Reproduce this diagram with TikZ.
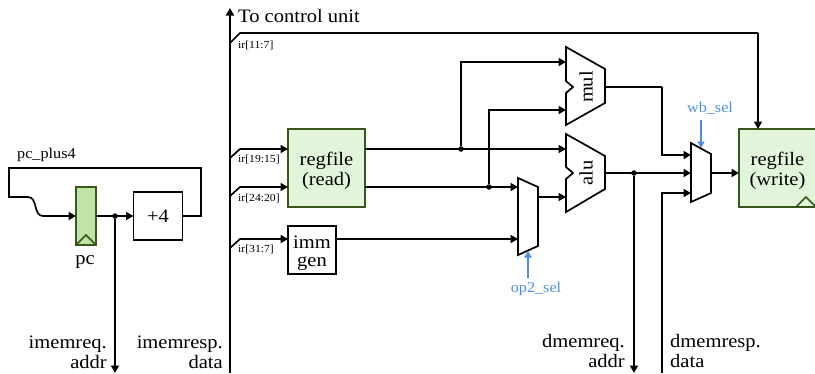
\documentclass[tikz,border=0pt]{standalone}
\usepackage{fontspec}
\setmainfont[FakeStretch=1.08]{Liberation Serif}
\usetikzlibrary{arrows.meta}
\definecolor{regfill}{HTML}{E2F5DA}
\definecolor{pcfill}{HTML}{BFE3A8}
\definecolor{regline}{HTML}{38571A}
\definecolor{selblue}{HTML}{4A90E2}
\newcommand{\boxstrut}{\rule{0pt}{19pt}}
\tikzset{
	wire/.style={line width=1.7pt,-},
	wirearrow/.style={line width=1.7pt,-{Triangle[length=7.5pt,width=8pt]}},
	selarrow/.style={line width=1.3pt,selblue,-{Triangle[length=6.5pt,width=7pt]}},
	unit/.style={draw,line width=1.7pt,inner sep=0,outer sep=0,align=center,font=\fontsize{19}{20}\selectfont},
	regbox/.style={unit,draw=regline,fill=regfill},
	muxshape/.style={draw,line width=1.7pt,fill=white,line join=miter},
	junc/.style={circle,fill=black,inner sep=0,minimum size=5.5pt},
	biglabel/.style={inner sep=0,font=\fontsize{19}{20}\selectfont},
	midlabel/.style={inner sep=0,font=\fontsize{15}{16}\selectfont},
	irlabel/.style={inner sep=0,anchor=west,font=\fontsize{10.8}{12}\selectfont},
}
\begin{document}
\begin{tikzpicture}[x=1pt,y=-1pt]
	\useasboundingbox (0,0) rectangle (815,373);
	% left part
	\node[unit,fill=pcfill,draw=regline,minimum width=20pt,minimum height=58pt] (pcreg) at (86,216) {};
	\node[unit,minimum width=49pt,minimum height=48pt] (plusfour) at (158,216) {+4};
	\draw[regline,line width=1.7pt] (pcreg.south west) -- ++(10,-10) -- (pcreg.south east);
	\node[biglabel] (pclabel) at (85,262) {pc};
	\node[midlabel,anchor=west] (pcpluslabel) at (17,155) {pc\_plus4};
	\node[junc] (pcjunc) at (115,216) {};
	\coordinate (imemaddr) at (115,373);
	\draw[wirearrow] (pcreg.east) -- (plusfour.west);
	\draw[wirearrow] (pcjunc) -- (imemaddr);
	\coordinate (loopa) at (201,168);
	\coordinate (loopb) at (9,168);
	\coordinate (loopc) at (9,197);
	\coordinate (loopd) at (28,197);
	\coordinate (loope) at (43,216);
	\draw[wire] (plusfour.east) -| (loopa) -- (loopb) -- (loopc) -- (loopd) .. controls (38,197) and (33,216) .. (loope);
	\draw[wirearrow] (loope) -- (pcreg.west);
	\node[biglabel,align=right,anchor=east] (imemreqlabel) at (107,352) {imemreq.\\addr};
	\node[biglabel,align=right,anchor=east] (imemresplabel) at (223,352) {imemresp.\\data};
	% instruction bus
	\coordinate (busbot) at (230,373);
	\coordinate (bustop) at (230,8);
	\draw[wirearrow] (busbot) -- (bustop);
	\node[biglabel,anchor=west] (ctrllabel) at (238,16) {To control unit};
	% boxes
	\node[regbox,minimum width=77pt,minimum height=78pt] (regread) at (326.5,168) {\boxstrut regfile\\(read)};
	\node[regbox,minimum width=77pt,minimum height=78pt] (regwrite) at (777.5,168) {\boxstrut regfile\\(write)};
	\draw[regline,line width=1.7pt] (regwrite.south east) ++(-20,0) -- ++(10,-10) -- ++(10,10);
	\node[unit,minimum width=48pt,minimum height=48pt,font=\fontsize{19}{18}\selectfont] (immgen) at (312,250) {\boxstrut imm\\gen};
	% bus branches
	\coordinate (brctrl) at (230,43);
	\coordinate (brrsone) at (230,158);
	\coordinate (brrstwo) at (230,196);
	\coordinate (brimm) at (230,248);
	\coordinate (inrsone) at (288,149);
	\coordinate (inrstwo) at (288,187);
	\coordinate (inimm) at (288,239);
	\coordinate (ctrlcorner) at (758,33);
	\draw[wire] (brctrl) -- ++(10,-10) -- (ctrlcorner);
	\draw[wirearrow] (ctrlcorner) -- (ctrlcorner |- regwrite.north);
	\draw[wirearrow] (brrsone) -- ++(10,-9) -- (inrsone);
	\draw[wirearrow] (brrstwo) -- ++(10,-9) -- (inrstwo);
	\draw[wirearrow] (brimm) -- ++(10,-9) -- (inimm);
	\node[irlabel] (irctrl) at (238,45) {ir[11:7]};
	\node[irlabel] (irrsone) at (238,159) {ir[19:15]};
	\node[irlabel] (irrstwo) at (238,198) {ir[24:20]};
	\node[irlabel] (irimm) at (238,249) {ir[31:7]};
	% mul and alu
	\draw[muxshape] (566,47) -- (605,69) -- (605,103) -- (566,125) -- (566,93) -- (573,87) -- (566,81) -- cycle;
	\draw[muxshape] (566,134) -- (605,156) -- (605,189) -- (566,212) -- (566,179) -- (573,173) -- (566,167) -- cycle;
	\node[biglabel,rotate=90] (mullabel) at (586,87) {mul};
	\node[biglabel,rotate=90] (alulabel) at (586,173) {alu};
	% operand mux and writeback mux
	\draw[muxshape] (518,178) -- (538,187) -- (538,246) -- (518,255) -- cycle;
	\draw[muxshape] (691,143) -- (711,154) -- (711,193) -- (691,202) -- cycle;
	% ports
	\coordinate (mulina) at (566,62);
	\coordinate (mulinb) at (566,110);
	\coordinate (aluina) at (566,149);
	\coordinate (aluinb) at (566,197);
	\coordinate (aluout) at (605,173);
	\coordinate (mulout) at (605,87);
	\coordinate (opina) at (518,187);
	\coordinate (opinb) at (518,239);
	\coordinate (opout) at (538,197);
	\coordinate (wbina) at (691,155);
	\coordinate (wbinb) at (691,173);
	\coordinate (wbinc) at (691,193);
	\coordinate (wbout) at (711,173);
	% wires
	\node[junc] (rsonejunc) at (461,149) {};
	\node[junc] (rstwojunc) at (489,187) {};
	\node[junc] (alujunc) at (634,173) {};
	\draw[wirearrow] (regread.east |- aluina) -- (aluina);
	\draw[wirearrow] (rsonejunc) |- (mulina);
	\draw[wirearrow] (regread.east |- opina) -- (opina);
	\draw[wirearrow] (rstwojunc) |- (mulinb);
	\draw[wirearrow] (immgen.east |- opinb) -- (opinb);
	\draw[wirearrow] (opout) -- (aluinb);
	\draw[wirearrow] (aluout) -- (wbinb);
	\coordinate (dmemaddr) at (634,373);
	\coordinate (dmemdata) at (662,373);
	\coordinate (mulcorner) at (662,87);
	\draw[wirearrow] (alujunc) -- (dmemaddr);
	\draw[wire] (mulout) -- (mulcorner);
	\draw[wirearrow] (mulcorner) |- (wbina);
	\draw[wirearrow] (dmemdata) |- (wbinc);
	\draw[wirearrow] (wbout) -- (regwrite.west |- wbout);
	% select signals
	\node[midlabel,selblue] (wbsel) at (710,108) {wb\_sel};
	\node[midlabel,selblue] (opsel) at (536,289) {op2\_sel};
	\coordinate (wbselend) at (701,148);
	\coordinate (wbselbegin) at (701,120);
	\coordinate (opselend) at (528,251);
	\coordinate (opselbegin) at (528,278);
	\draw[selarrow] (wbselbegin) -- (wbselend);
	\draw[selarrow] (opselbegin) -- (opselend);
	% data memory labels
	\node[biglabel,align=right,anchor=east] (dmemreqlabel) at (625,351) {dmemreq.\\addr};
	\node[biglabel,align=left,anchor=west] (dmemresplabel) at (670,351) {dmemresp.\\data};
\end{tikzpicture}
\end{document}
